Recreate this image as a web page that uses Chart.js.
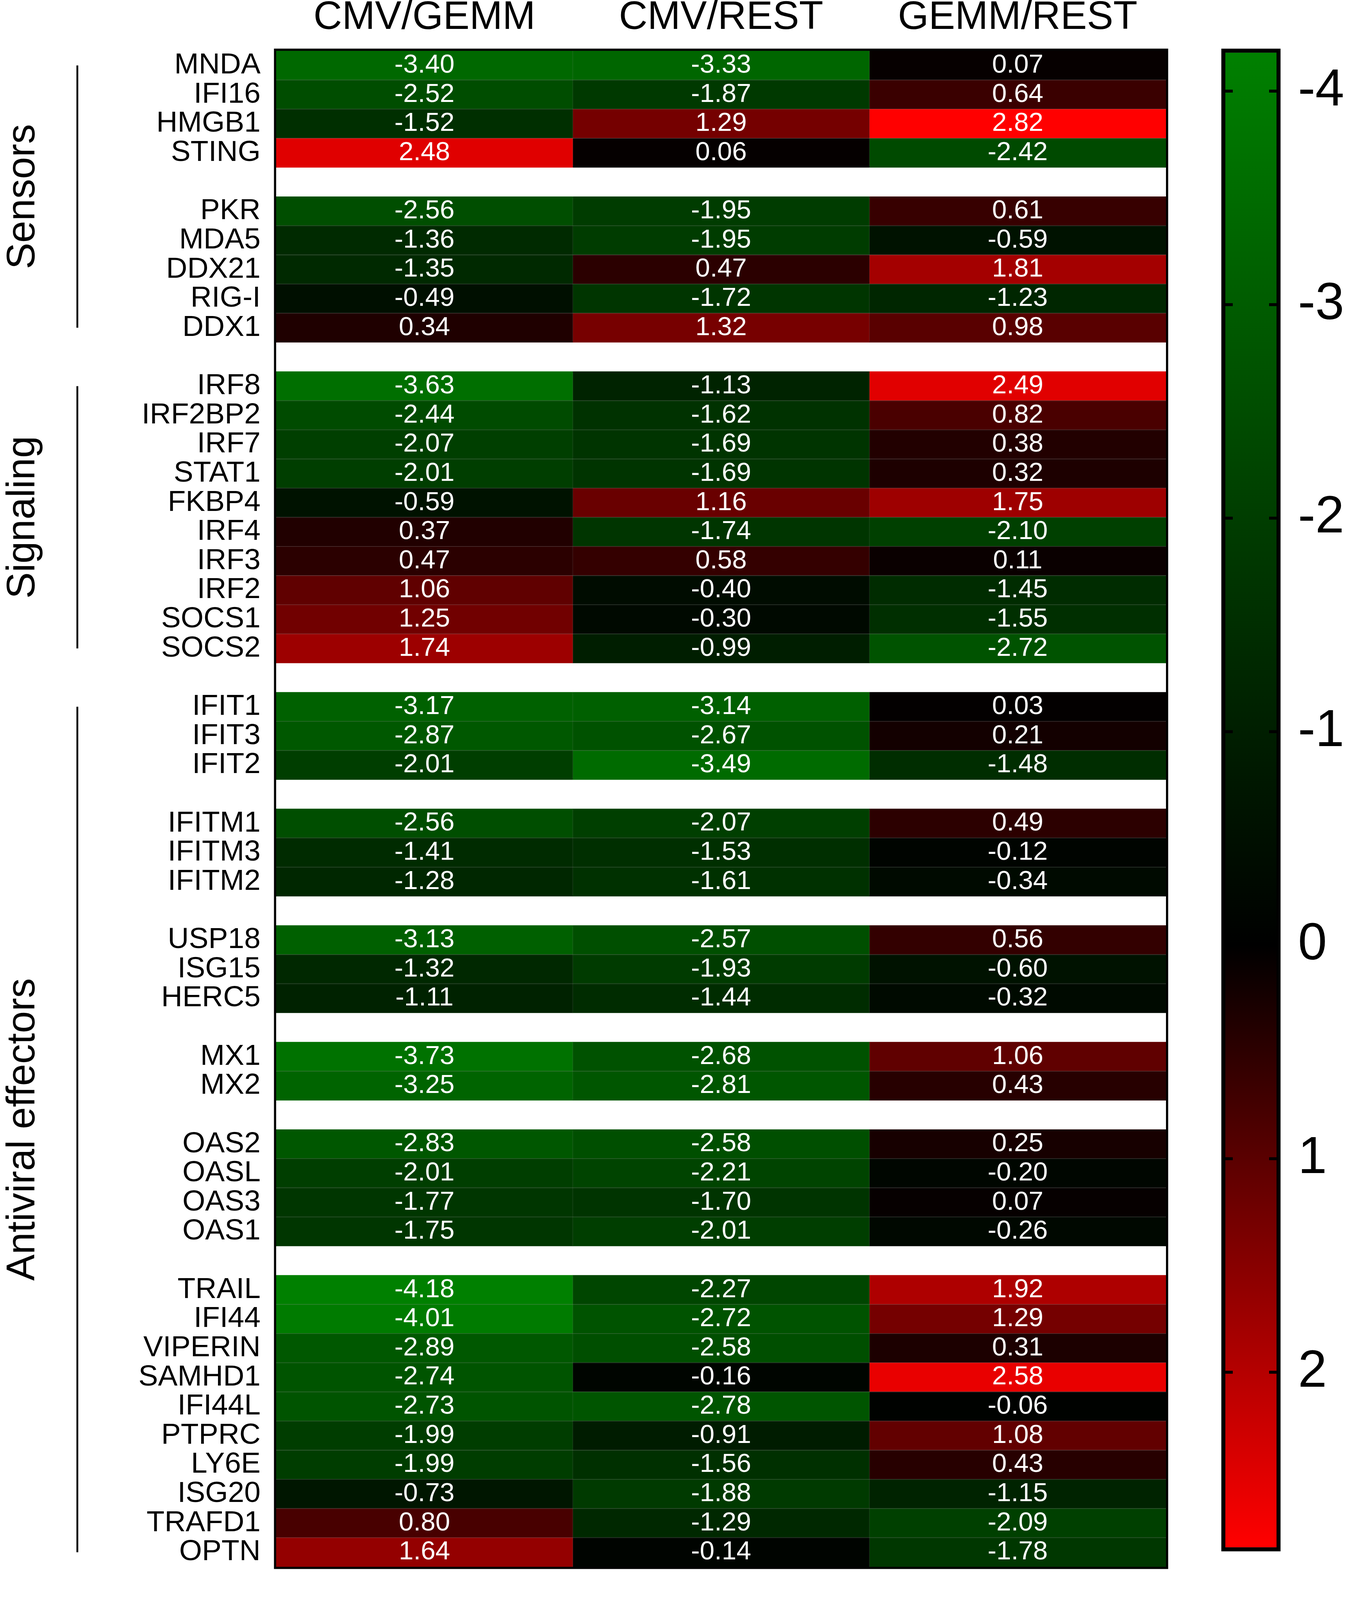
<!DOCTYPE html>
<html>
<head>
<meta charset="utf-8">
<script src="https://cdn.jsdelivr.net/npm/chart.js@4.4.1/dist/chart.umd.min.js"></script>
<style>
html, body { margin: 0; padding: 0; background: #fff; overflow: hidden; }
#wrap { position: relative; background: #fff; overflow: hidden; }
#heat { position: absolute; left: 0; top: 0; }
#bar { position: absolute; top: 0; }
</style>
</head>
<body>
<div id="wrap">
  <canvas id="heat"></canvas>
  <canvas id="bar"></canvas>
</div>
<script>
// ---------------- data ----------------
const genes = [
  'MNDA','IFI16','HMGB1','STING','',
  'PKR','MDA5','DDX21','RIG-I','DDX1','',
  'IRF8','IRF2BP2','IRF7','STAT1','FKBP4','IRF4','IRF3','IRF2','SOCS1','SOCS2','',
  'IFIT1','IFIT3','IFIT2','',
  'IFITM1','IFITM3','IFITM2','',
  'USP18','ISG15','HERC5','',
  'MX1','MX2','',
  'OAS2','OASL','OAS3','OAS1','',
  'TRAIL','IFI44','VIPERIN','SAMHD1','IFI44L','PTPRC','LY6E','ISG20','TRAFD1','OPTN'
];
const cmvGemm = [
  -3.40,-2.52,-1.52,2.48,null,
  -2.56,-1.36,-1.35,-0.49,0.34,null,
  -3.63,-2.44,-2.07,-2.01,-0.59,0.37,0.47,1.06,1.25,1.74,null,
  -3.17,-2.87,-2.01,null,
  -2.56,-1.41,-1.28,null,
  -3.13,-1.32,-1.11,null,
  -3.73,-3.25,null,
  -2.83,-2.01,-1.77,-1.75,null,
  -4.18,-4.01,-2.89,-2.74,-2.73,-1.99,-1.99,-0.73,0.80,1.64
];
const cmvRest = [
  -3.33,-1.87,1.29,0.06,null,
  -1.95,-1.95,0.47,-1.72,1.32,null,
  -1.13,-1.62,-1.69,-1.69,1.16,-1.74,0.58,-0.40,-0.30,-0.99,null,
  -3.14,-2.67,-3.49,null,
  -2.07,-1.53,-1.61,null,
  -2.57,-1.93,-1.44,null,
  -2.68,-2.81,null,
  -2.58,-2.21,-1.70,-2.01,null,
  -2.27,-2.72,-2.58,-0.16,-2.78,-0.91,-1.56,-1.88,-1.29,-0.14
];
const gemmRest = [
  0.07,0.64,2.82,-2.42,null,
  0.61,-0.59,1.81,-1.23,0.98,null,
  2.49,0.82,0.38,0.32,1.75,-2.10,0.11,-1.45,-1.55,-2.72,null,
  0.03,0.21,-1.48,null,
  0.49,-0.12,-0.34,null,
  0.56,-0.60,-0.32,null,
  1.06,0.43,null,
  0.25,-0.20,0.07,-0.26,null,
  1.92,1.29,0.31,2.58,-0.06,1.08,0.43,-1.15,-2.09,-1.78
];
const columnLabels = ['CMV/GEMM', 'CMV/REST', 'GEMM/REST'];
const groupLabels = ['Sensors', 'Signaling', 'Antiviral effectors'];
const groupFirstGene = ['MNDA', 'IRF8', 'IFIT1'];
const groupLastGene = ['DDX1', 'SOCS2', 'OPTN'];
const colorbarTicks = [-4, -3, -2, -1, 0, 1, 2];

// ---------------- page geometry (design size 3451 x 4659, fitted to the viewport) ----------------
const W = window.innerWidth || 3451;
const H = window.innerHeight || 4659;
const sx = W / 3451, sy = H / 4659, fs = Math.sqrt(sx * sy);
const wrap = document.getElementById('wrap');
wrap.style.width = W + 'px';
wrap.style.height = H + 'px';
const heatCanvas = document.getElementById('heat');
const barCanvas = document.getElementById('bar');
const heatW = Math.round(3100 * sx);
heatCanvas.width = heatW; heatCanvas.height = H;
barCanvas.width = W - heatW; barCanvas.height = H;
barCanvas.style.left = heatW + 'px';

// ---------------- styling ----------------
const FONT = "'Liberation Sans', Arimo, Arial, sans-serif";
Chart.defaults.font.family = FONT;
Chart.defaults.color = '#000';

const columns = [cmvGemm, cmvRest, gemmRest];
const allVals = columns.flat().filter(v => v !== null);
const vMin = Math.min(...allVals);
const vMax = Math.max(...allVals);

function cellColor(v) {
  if (v === null || v === undefined) return 'rgba(0,0,0,0)';
  if (v < 0) {
    const t = Math.min(1, v / vMin);
    return `rgb(0,${Math.round(128 * t)},0)`;
  }
  const t = Math.min(1, v / vMax);
  return `rgb(${Math.round(255 * t)},0,0)`;
}

const datasets = columns.map((vals, ci) => ({
  label: columnLabels[ci],
  data: vals.map(v => (v === null ? null : [ci, ci + 1])),
  values: vals,
  backgroundColor: ctx => cellColor(vals[ctx.dataIndex]),
  borderWidth: 0,
  grouped: false,
  barPercentage: 1,
  categoryPercentage: 1
}));

const heatDecor = {
  id: 'heatDecor',
  afterDatasetsDraw(chart) {
    const { ctx, chartArea: a, scales: { x, y } } = chart;
    ctx.save();
    // faint cell separators
    ctx.strokeStyle = 'rgba(150,150,150,0.3)';
    ctx.lineWidth = Math.max(1, 2 * fs);
    for (let i = 0; i < genes.length - 1; i++) {
      if (genes[i] && genes[i + 1]) {
        const yy = (y.getPixelForValue(i) + y.getPixelForValue(i + 1)) / 2;
        ctx.beginPath(); ctx.moveTo(a.left, yy); ctx.lineTo(a.right, yy); ctx.stroke();
      }
    }
    ctx.strokeStyle = 'rgba(150,150,150,0.15)';
    const rowH = y.getPixelForValue(1) - y.getPixelForValue(0);
    for (let c = 1; c < columnLabels.length; c++) {
      const xx = x.getPixelForValue(c);
      for (let i = 0; i < genes.length; i++) {
        if (!genes[i]) continue;
        const yc = y.getPixelForValue(i);
        ctx.beginPath(); ctx.moveTo(xx, yc - rowH / 2); ctx.lineTo(xx, yc + rowH / 2); ctx.stroke();
      }
    }
    // cell values
    ctx.fillStyle = '#fff';
    ctx.font = `${72 * fs}px ${FONT}`;
    ctx.textAlign = 'center';
    ctx.textBaseline = 'middle';
    chart.data.datasets.forEach((ds, di) => {
      const meta = chart.getDatasetMeta(di);
      meta.data.forEach((el, i) => {
        const v = ds.values[i];
        if (v === null || v === undefined) return;
        ctx.fillText(v.toFixed(2), (el.x + el.base) / 2, el.y);
      });
    });
    // outer frame
    const fw = 6 * fs;
    ctx.strokeStyle = '#000';
    ctx.lineWidth = fw;
    ctx.strokeRect(a.left - fw / 2, a.top - fw / 2, a.width + fw, a.height + fw);
    // group brackets and labels
    ctx.lineWidth = 5 * fs;
    ctx.fillStyle = '#000';
    groupLabels.forEach((g, gi) => {
      const y0 = y.getPixelForValue(genes.indexOf(groupFirstGene[gi]));
      const y1 = y.getPixelForValue(genes.indexOf(groupLastGene[gi]));
      const lx = a.left - 509 * sx;
      ctx.beginPath(); ctx.moveTo(lx, y0); ctx.lineTo(lx, y1); ctx.stroke();
      ctx.save();
      ctx.translate(a.left - 619 * sx, (y0 + y1) / 2);
      ctx.rotate(-Math.PI / 2);
      ctx.font = `${108 * fs}px ${FONT}`;
      ctx.textAlign = 'center';
      ctx.textBaseline = 'alphabetic';
      ctx.fillText(g, 0, 0);
      ctx.restore();
    });
    ctx.restore();
  }
};

new Chart(heatCanvas, {
  type: 'bar',
  data: { labels: genes, datasets },
  options: {
    indexAxis: 'y',
    responsive: false,
    animation: false,
    devicePixelRatio: 1,
    layout: { padding: { left: 0, top: 0, right: 115 * sx, bottom: 12 * sy } },
    plugins: { legend: { display: false }, tooltip: { enabled: false } },
    scales: {
      x: {
        type: 'linear', position: 'top', min: 0, max: 3,
        afterBuildTicks: s => { s.ticks = columnLabels.map((_, i) => ({ value: i + 0.5 })); },
        afterFit: s => { s.height = 148 * sy; },
        grid: { display: false, drawTicks: false },
        border: { display: false },
        ticks: {
          font: { size: 108 * fs }, color: '#000', padding: 26 * sy, maxRotation: 0, autoSkip: false,
          callback: (v, i) => columnLabels[i]
        }
      },
      y: {
        type: 'category', position: 'left',
        afterFit: s => { s.width = 707 * sx; },
        grid: { display: false, drawTicks: false },
        border: { display: false },
        ticks: { font: { size: 80 * fs }, color: '#000', padding: 40 * sx, autoSkip: false }
      }
    }
  },
  plugins: [heatDecor]
});

// ---------------- colour bar ----------------
const cbFrame = {
  id: 'cbFrame',
  afterDatasetsDraw(chart) {
    const { ctx, chartArea: a, scales: { y } } = chart;
    ctx.save();
    ctx.fillStyle = '#000';
    const tl = 19 * sx, th = 8 * fs;
    colorbarTicks.forEach(t => {
      const p = y.getPixelForValue(t);
      ctx.fillRect(a.left, p - th / 2, tl, th);
      ctx.fillRect(a.right - tl, p - th / 2, tl, th);
    });
    const bw = 11 * fs;
    ctx.strokeStyle = '#000';
    ctx.lineWidth = bw;
    ctx.strokeRect(a.left - bw / 2, a.top - bw / 2, a.width + bw, a.height + bw);
    ctx.restore();
  }
};

new Chart(barCanvas, {
  type: 'bar',
  data: {
    labels: ['scale'],
    datasets: [{
      data: [[vMin, vMax]],
      backgroundColor: c => {
        const ch = c.chart;
        if (!ch.chartArea) return '#000';
        const y = ch.scales.y;
        const p0 = y.getPixelForValue(vMin), p1 = y.getPixelForValue(vMax);
        const g = ch.ctx.createLinearGradient(0, p0, 0, p1);
        g.addColorStop(0, cellColor(vMin));
        g.addColorStop((0 - vMin) / (vMax - vMin), cellColor(0));
        g.addColorStop(1, cellColor(vMax));
        return g;
      },
      borderWidth: 0,
      barPercentage: 1,
      categoryPercentage: 1
    }]
  },
  options: {
    responsive: false,
    animation: false,
    devicePixelRatio: 1,
    layout: { padding: { left: 37 * sx, top: 151 * sy, right: 0, bottom: 18 * sy } },
    plugins: { legend: { display: false }, tooltip: { enabled: false } },
    scales: {
      x: { display: false },
      y: {
        type: 'linear', position: 'right', reverse: true, min: vMin, max: vMax,
        afterBuildTicks: s => { s.ticks = colorbarTicks.map(v => ({ value: v })); },
        afterFit: s => { s.width = (W - heatW) - 168 * sx; },
        grid: { display: false, drawTicks: false },
        border: { display: false },
        ticks: { font: { size: 142 * fs }, color: '#000', padding: 55 * sx, callback: v => String(v) }
      }
    }
  },
  plugins: [cbFrame]
});
</script>
</body>
</html>
